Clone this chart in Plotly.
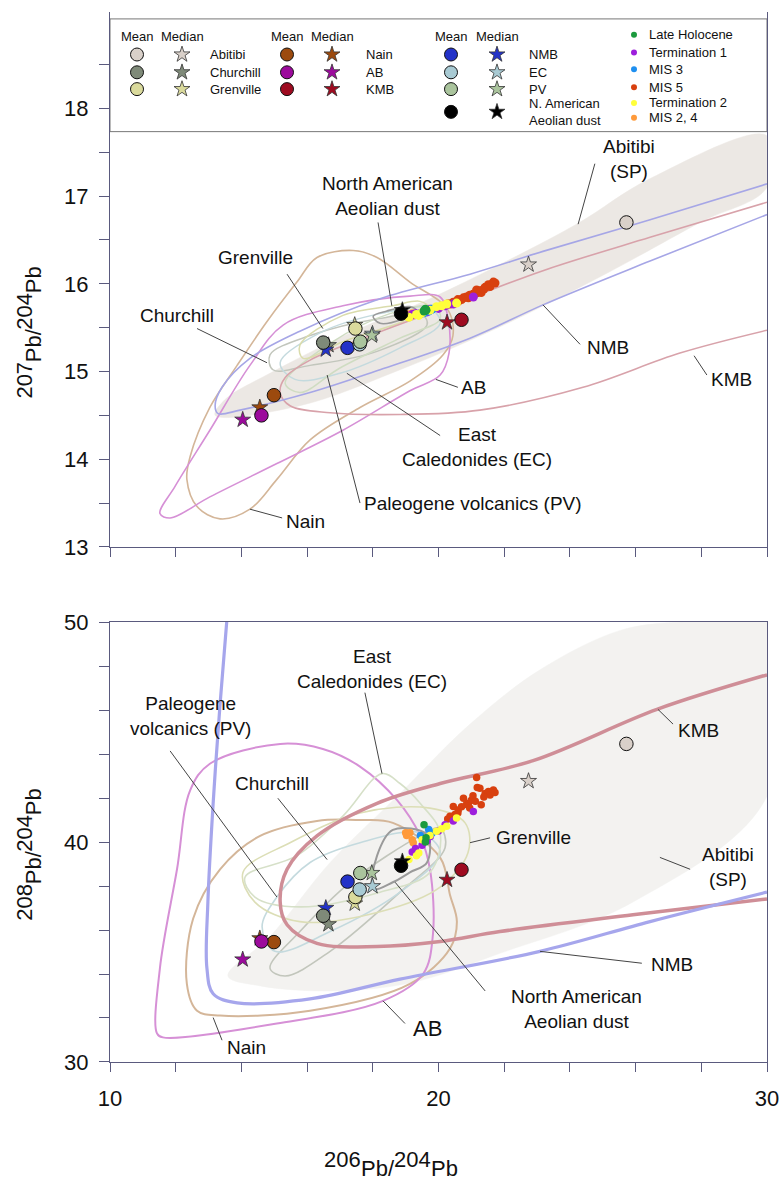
import plotly.graph_objects as go

FONT = "Liberation Sans, Arial, Helvetica, sans-serif"
AX = "#5a5a7e"

# ------------------------------------------------------------------ sources
source_names = ["Abitibi", "Churchill", "Grenville", "Nain", "AB", "KMB",
                "NMB", "EC", "PV", "N. American Aeolian dust"]
legend_labels = ["Abitibi", "Churchill", "Grenville", "Nain", "AB", "KMB",
                 "NMB", "EC", "PV", "N. American<br>Aeolian dust"]
source_colors = ["#d9d0c9", "#7f8a79", "#dada9c", "#9c4a0e", "#9c0a9c",
                 "#9e0b20", "#2332c8", "#a8cad3", "#aac49d", "#000000"]
mean_206 = [25.72, 16.49, 17.47, 14.99, 14.61, 20.70, 17.23, 17.60, 17.62, 18.86]
mean_207 = [16.70, 15.33, 15.49, 14.73, 14.50, 15.59, 15.27, 15.31, 15.34, 15.66]
mean_208 = [44.46, 36.65, 37.50, 35.45, 35.48, 38.74, 38.20, 37.84, 38.59, 38.92]
median_206 = [22.74, 16.65, 17.45, 14.56, 14.04, 20.26, 16.57, 17.99, 17.97, 18.90]
median_207 = [16.22, 15.30, 15.53, 14.59, 14.45, 15.56, 15.25, 15.43, 15.41, 15.70]
median_208 = [42.77, 36.26, 37.20, 35.62, 34.66, 38.28, 37.00, 37.99, 38.59, 39.12]

# ------------------------------------------------------------------ samples
sample_names = ["Late Holocene", "Termination 1", "MIS 3", "MIS 5", "Termination 2", "MIS 2, 4"]
sample_colors = ["#1b9a3e", "#9d1fdc", "#1e8ff0", "#d8400f", "#ffff3a", "#ff9a3a"]

holo_206 = [19.62, 19.56, 19.60]
holo_207 = [15.70, 15.69, 15.71]
holo_208 = [40.19, 40.79, 40.00]

term1_206 = [19.20, 19.30, 19.50, 19.75, 20.00, 20.20, 20.45, 21.06, 19.65]
term1_207 = [15.65, 15.66, 15.67, 15.71, 15.72, 15.75, 15.77, 15.85, 15.68]
term1_208 = [39.55, 39.70, 39.85, 40.25, 40.50, 40.79, 40.95, 41.39, 40.05]

mis3_206 = [19.45, 19.70, 19.80, 19.55]
mis3_207 = [15.66, 15.69, 15.71, 15.67]
mis3_208 = [40.30, 40.57, 40.40, 40.10]

mis5_206 = [20.28, 20.35, 20.45, 20.59, 20.60, 20.70, 20.76, 20.85, 20.91, 21.00, 21.05, 21.12,
            21.18, 21.26, 21.30, 21.42, 21.52, 21.57, 21.67, 21.72, 20.50, 20.95, 21.16, 21.38]
mis5_207 = [15.77, 15.77, 15.79, 15.82, 15.80, 15.82, 15.84, 15.85, 15.84, 15.86, 15.88, 15.89,
            15.90, 15.92, 15.90, 15.96, 15.99, 15.97, 16.02, 16.01, 15.79, 15.87, 15.93, 15.94]
mis5_208 = [41.05, 41.17, 41.62, 41.32, 41.45, 41.60, 41.99, 41.70, 41.76, 41.90, 42.10, 41.85,
            42.48, 42.44, 41.69, 42.20, 42.30, 42.14, 42.36, 42.25, 41.25, 41.55, 42.93, 42.05]

term2_206 = [19.10, 19.33, 19.50, 19.74, 19.94, 20.10, 20.25, 20.55, 19.40]
term2_207 = [15.62, 15.65, 15.67, 15.70, 15.74, 15.75, 15.77, 15.78, 15.64]
term2_208 = [39.20, 39.37, 40.10, 40.30, 40.49, 40.60, 40.72, 41.09, 39.50]

mis24_206 = [19.00, 19.03, 19.13, 19.20, 19.23]
mis24_207 = [15.64, 15.65, 15.64, 15.66, 15.65]
mis24_208 = [40.42, 40.30, 40.42, 40.10, 39.97]

# ------------------------------------------------------------------ field outlines (207 panel)
abitibi_t_x = [13.2, 15.78, 18.83, 21.87, 24.92, 27.96, 30.0, 30.0, 26.44, 24.25, 21.87, 19.74, 17.31, 14.87, 13.5]
abitibi_t_y = [14.5, 14.61, 15.02, 15.51, 16.08, 16.70, 17.10, 17.69, 17.20, 16.69, 16.22, 15.83, 15.44, 14.98, 14.68]
nmb_t_x = [30.0, 26.44, 23.18, 20.96, 18.22, 15.78, 14.26, 13.41, 13.2, 13.29, 13.96, 16.09, 18.22, 20.96, 23.18, 26.44, 30.0]
nmb_t_y = [17.14, 16.73, 16.37, 16.11, 15.83, 15.46, 15.15, 14.82, 14.61, 14.52, 14.56, 14.76, 15.02, 15.38, 15.76, 16.26, 16.79]
kmb_t_x = [30.0, 26.44, 23.18, 20.14, 18.13, 16.09, 15.33, 15.18, 15.48, 16.7, 18.83, 21.26, 24.4, 27.35, 30.0]
kmb_t_y = [16.93, 16.53, 16.15, 15.72, 15.44, 15.13, 14.93, 14.76, 14.61, 14.53, 14.51, 14.56, 14.82, 15.21, 15.47]
ab_t_x = [11.52, 11.98, 13.04, 14.26, 15.27, 17.09, 19.13, 20.05, 20.29, 20.32, 20.05, 19.13, 17.09, 15.08, 13.04, 11.83]
ab_t_y = [13.38, 13.69, 14.33, 15.07, 15.53, 15.75, 15.86, 15.85, 15.6, 15.21, 14.96, 14.78, 14.33, 13.95, 13.57, 13.33]
nain_t_x = [17.4, 16.3, 15.69, 14.78, 13.87, 13.04, 12.44, 12.34, 12.65, 13.35, 14.26, 15.08, 16.09, 17.61, 19.13, 20.14, 20.44, 20.26, 19.13, 18.13]
nain_t_y = [16.38, 16.30, 16.02, 15.57, 15.07, 14.59, 14.03, 13.77, 13.46, 13.32, 13.43, 13.77, 14.22, 14.59, 14.89, 15.19, 15.41, 15.72, 16.02, 16.30]
churchill_t_x = [14.87, 16.09, 18.13, 19.53, 19.65, 18.13, 16.09, 14.96]
churchill_t_y = [15.19, 15.41, 15.60, 15.64, 15.53, 15.23, 15.07, 15.02]
grenville_t_x = [15.78, 17.09, 18.61, 19.44, 19.74, 18.92, 17.09, 15.88]
grenville_t_y = [15.30, 15.64, 15.75, 15.80, 15.72, 15.57, 15.34, 15.15]
ec_t_x = [15.18, 16.39, 18.22, 19.74, 20.05, 18.83, 17.0, 15.63]
ec_t_y = [15.10, 15.44, 15.66, 15.72, 15.55, 15.27, 14.98, 14.91]
pv_t_x = [15.33, 16.7, 18.52, 19.89, 20.05, 18.83, 17.0, 15.78]
pv_t_y = [14.87, 15.32, 15.66, 15.74, 15.60, 15.38, 15.04, 14.76]
nad_t_x = [18.01, 18.43, 19.13, 19.35, 18.92, 18.22]
nad_t_y = [15.63, 15.69, 15.74, 15.69, 15.60, 15.55]

# ------------------------------------------------------------------ field outlines (208 panel)
abitibi_b_x = [13.59, 14.57, 16.7, 19.13, 21.87, 25.92, 30.0, 30.0, 27.35, 25.53, 23.09, 20.96, 18.83, 16.7, 14.87]
abitibi_b_y = [33.91, 33.46, 33.23, 33.59, 34.94, 37.27, 42.08, 50.0, 50.0, 49.62, 47.83, 45.36, 42.21, 39.07, 35.70]
nmb_b_x = [13.58, 13.35, 13.14, 12.98, 12.95, 13.14, 13.87, 16.09, 18.83, 23.09, 26.44, 30.0]
nmb_b_y = [50.5, 46.26, 41.76, 37.27, 34.27, 33.10, 32.69, 32.87, 33.77, 35.03, 36.38, 37.72]
kmb_b_x = [30.0, 26.65, 22.88, 20.05, 18.13, 16.3, 15.39, 15.18, 15.39, 16.3, 18.13, 20.05, 21.87, 25.92, 30.0]
kmb_b_y = [47.6, 46.03, 43.70, 42.66, 41.76, 40.28, 38.76, 37.27, 36.24, 35.39, 35.25, 35.48, 35.93, 36.69, 37.41]
ab_b_x = [15.18, 13.04, 12.44, 12.04, 11.52, 11.43, 11.61, 15.08, 18.31, 19.53, 19.83, 19.74, 19.44, 18.74, 17.61, 16.48]
ab_b_y = [44.46, 43.56, 42.35, 38.76, 34.27, 31.30, 31.12, 31.75, 32.78, 34.0, 35.79, 38.76, 40.28, 41.90, 43.43, 44.23]
nain_b_x = [16.3, 14.57, 13.35, 12.53, 12.34, 12.65, 13.35, 16.09, 19.13, 20.35, 20.56, 20.35, 20.05, 18.61, 17.61]
nain_b_y = [40.96, 40.28, 38.76, 36.51, 33.55, 32.33, 32.11, 32.33, 33.55, 35.16, 36.38, 37.59, 39.29, 40.87, 41.0]
ec_b_x = [18.28, 17.09, 15.69, 14.11, 14.41, 15.78, 18.22, 19.74, 20.05, 19.44, 18.83]
ec_b_y = [43.11, 41.18, 39.38, 38.40, 37.50, 37.05, 37.72, 38.62, 40.42, 41.76, 42.66]
pv_b_x = [15.08, 16.09, 17.61, 19.44, 20.05, 18.83, 16.7, 15.02, 14.63]
pv_b_y = [37.50, 39.07, 39.97, 40.42, 39.52, 37.72, 35.93, 35.03, 36.15]
churchill_b_x = [14.87, 15.78, 17.31, 19.44, 20.05, 20.2, 18.83, 16.7, 15.33]
churchill_b_y = [34.27, 35.93, 38.17, 40.28, 40.64, 39.74, 37.72, 35.03, 33.91]
grenville_b_x = [14.05, 15.48, 17.61, 19.74, 20.81, 20.9, 20.05, 18.22, 15.78, 14.41]
grenville_b_y = [38.62, 39.97, 41.32, 41.54, 40.87, 39.52, 37.95, 36.83, 36.38, 37.27]
nad_b_x = [18.01, 18.13, 18.61, 19.65, 19.65, 19.13, 18.61]
nad_b_y = [37.86, 39.38, 40.55, 40.33, 39.07, 38.62, 38.17]

# ------------------------------------------------------------------ ticks
x_all_ticks = [10, 12, 14, 16, 18, 20, 22, 24, 26, 28, 30]
x_major = [10, 20, 30]
x_minor = [12, 14, 16, 18, 22, 24, 26, 28]
y207_major = [13, 14, 15, 16, 17, 18]
y207_minor = [13.5, 14.5, 15.5, 16.5, 17.5, 18.5]
y208_major = [30, 40, 50]
y208_minor = [32, 34, 36, 38, 42, 44, 46, 48]

fig = go.Figure()
AXES = {"top": ("x", "y"), "bot": ("x2", "y2")}


def add_field(xs, ys, color, width, panel, closed=True, fill=None):
    xs, ys = list(xs), list(ys)
    if closed:
        xs, ys = xs + xs[:1], ys + ys[:1]
    xa, ya = AXES[panel]
    fig.add_trace(go.Scatter(
        x=xs, y=ys, mode="lines", xaxis=xa, yaxis=ya,
        line=dict(color=color, width=width, shape="spline", smoothing=1.0),
        fill="toself" if fill else None, fillcolor=fill,
        hoverinfo="skip", showlegend=False))


# fields - top
add_field(abitibi_t_x, abitibi_t_y, "#ece8e4", 0.5, "top", fill="#ece8e4")
add_field(nain_t_x, nain_t_y, "#d4b699", 1.6, "top")
add_field(ab_t_x, ab_t_y, "#d690d6", 1.6, "top")
add_field(churchill_t_x, churchill_t_y, "#c2c6bc", 1.5, "top")
add_field(ec_t_x, ec_t_y, "#c4dade", 1.5, "top")
add_field(pv_t_x, pv_t_y, "#cfdcc2", 1.5, "top")
add_field(grenville_t_x, grenville_t_y, "#dadcac", 1.5, "top")
add_field(kmb_t_x, kmb_t_y, "#d8a2aa", 1.6, "top", closed=False)
add_field(nmb_t_x, nmb_t_y, "#a6a6e6", 1.6, "top", closed=False)
add_field(nad_t_x, nad_t_y, "#9a9a9a", 1.6, "top")

# fields - bottom
add_field(abitibi_b_x, abitibi_b_y, "#f3f2f0", 0.5, "bot", fill="#f3f2f0")
add_field(nain_b_x, nain_b_y, "#d4b699", 2.0, "bot")
add_field(ab_b_x, ab_b_y, "#d690d6", 2.0, "bot")
add_field(churchill_b_x, churchill_b_y, "#c2c6bc", 1.6, "bot")
add_field(pv_b_x, pv_b_y, "#c4dade", 1.6, "bot")
add_field(ec_b_x, ec_b_y, "#d6e0c8", 1.6, "bot")
add_field(grenville_b_x, grenville_b_y, "#dcdeb6", 1.6, "bot")
add_field(kmb_b_x, kmb_b_y, "#cf8e97", 3.5, "bot", closed=False)
add_field(nmb_b_x, nmb_b_y, "#a6a6ec", 3.2, "bot", closed=False)
add_field(nad_b_x, nad_b_y, "#9a9a9a", 2.0, "bot")

# samples
sample_sets = [
    (mis5_206, mis5_207, mis5_208, 3),
    (mis24_206, mis24_207, mis24_208, 5),
    (term1_206, term1_207, term1_208, 1),
    (mis3_206, mis3_207, mis3_208, 2),
    (term2_206, term2_207, term2_208, 4),
    (holo_206, holo_207, holo_208, 0),
]
for sx, s7, s8, ci in sample_sets:
    for panel, sy, size in (("top", s7, 9), ("bot", s8, 7.5)):
        xa, ya = AXES[panel]
        fig.add_trace(go.Scatter(x=sx, y=sy, mode="markers", xaxis=xa, yaxis=ya,
                                 marker=dict(color=sample_colors[ci], size=size, line=dict(width=0)),
                                 name=sample_names[ci], showlegend=False, hoverinfo="skip"))

# medians (stars) then means (circles)
for panel, my, dy in (("top", median_207, mean_207), ("bot", median_208, mean_208)):
    xa, ya = AXES[panel]
    fig.add_trace(go.Scatter(x=median_206, y=my, mode="markers", xaxis=xa, yaxis=ya,
                             marker=dict(symbol="star", size=12, color=source_colors,
                                         line=dict(color="#333333", width=0.8)),
                             showlegend=False, hoverinfo="skip"))
    fig.add_trace(go.Scatter(x=mean_206, y=dy, mode="markers", xaxis=xa, yaxis=ya,
                             marker=dict(symbol="circle", size=13.5, color=source_colors,
                                         line=dict(color="#111111", width=1)),
                             showlegend=False, hoverinfo="skip"))

# ------------------------------------------------------------------ legend (pixel-unit axis)
hdr_y = 25
group_mean_x = [137, 287, 451]
group_median_x = [182, 332, 497]
group_text_x = [208, 364, 527]
row_y = [43, 61, 78, 101]
src_group = [0, 0, 0, 1, 1, 1, 2, 2, 2, 2]
src_row = [0, 1, 2, 0, 1, 2, 0, 1, 2, 3]
samp_dot_x, samp_text_x = 634, 647
samp_row_y = [23, 41, 58, 76, 92, 107]

leg_mx = [group_mean_x[g] for g in src_group]
leg_sx = [group_median_x[g] for g in src_group]
leg_y = [row_y[r] for r in src_row]
fig.add_trace(go.Scatter(x=leg_mx, y=leg_y, mode="markers", xaxis="x3", yaxis="y3",
                         marker=dict(symbol="circle", size=13, color=source_colors,
                                     line=dict(color="#111", width=1)),
                         showlegend=False, hoverinfo="skip", cliponaxis=False))
fig.add_trace(go.Scatter(x=leg_sx, y=leg_y, mode="markers", xaxis="x3", yaxis="y3",
                         marker=dict(symbol="star", size=12, color=source_colors,
                                     line=dict(color="#333", width=0.8)),
                         showlegend=False, hoverinfo="skip", cliponaxis=False))
fig.add_trace(go.Scatter(x=[samp_dot_x] * 6, y=samp_row_y, mode="markers", xaxis="x3", yaxis="y3",
                         marker=dict(size=6, color=sample_colors, line=dict(width=0)),
                         showlegend=False, hoverinfo="skip", cliponaxis=False))

annotations = []
LEGF = dict(family=FONT, size=13, color="#111")
for g in range(3):
    annotations.append(dict(x=group_mean_x[g], y=hdr_y, xref="x3", yref="y3", text="Mean",
                            showarrow=False, font=LEGF, xanchor="center", yanchor="middle"))
    annotations.append(dict(x=group_median_x[g], y=hdr_y, xref="x3", yref="y3", text="Median",
                            showarrow=False, font=LEGF, xanchor="center", yanchor="middle"))
for i, lab in enumerate(legend_labels):
    annotations.append(dict(x=group_text_x[src_group[i]], y=row_y[src_row[i]], xref="x3", yref="y3",
                            text=lab, showarrow=False, font=LEGF, xanchor="left", yanchor="middle",
                            align="left"))
for i, lab in enumerate(sample_names):
    annotations.append(dict(x=samp_text_x, y=samp_row_y[i], xref="x3", yref="y3", text=lab,
                            showarrow=False, font=LEGF, xanchor="left", yanchor="middle"))

# ------------------------------------------------------------------ field labels + leaders
labels_top = [
    ("Abitibi<br>(SP)", 25.8, 17.42, 19), ("North American<br>Aeolian dust", 18.46, 17.0, 19),
    ("Grenville", 14.44, 16.30, 19), ("Churchill", 12.04, 15.64, 19), ("AB", 21.08, 14.82, 19),
    ("East<br>Caledonides (EC)", 21.17, 14.14, 19), ("Paleogene volcanics (PV)", 21.05, 13.5, 19),
    ("Nain", 15.94, 13.29, 19), ("NMB", 25.16, 15.27, 19), ("KMB", 28.93, 14.91, 19),
]
leaders_top = [
    (24.76, 17.37, 24.25, 16.68), (18.16, 16.70, 18.58, 15.75), (15.39, 16.11, 16.48, 15.49),
    (12.65, 15.49, 14.78, 15.10), (19.92, 14.91, 20.59, 14.82), (17.21, 14.98, 20.05, 14.27),
    (16.61, 14.96, 17.61, 13.50), (14.26, 13.43, 15.24, 13.33), (23.18, 15.76, 24.31, 15.31),
    (27.78, 15.18, 28.17, 14.96),
]
labels_bot = [
    ("East<br>Caledonides (EC)", 17.98, 47.87, 19), ("Paleogene<br>volcanics (PV)", 12.44, 45.72, 19),
    ("Churchill", 14.93, 42.66, 19), ("Nain", 14.17, 30.67, 19), ("AB", 19.65, 31.53, 22),
    ("Grenville", 22.88, 40.19, 19), ("KMB", 27.9, 45.09, 19), ("Abitibi<br>(SP)", 28.81, 38.85, 19),
    ("NMB", 27.11, 34.45, 19), ("North American<br>Aeolian dust", 24.19, 32.42, 19),
]
leaders_bot = [
    (17.76, 46.79, 18.28, 43.11), (11.83, 44.14, 15.08, 37.50), (15.11, 41.99, 16.61, 39.20),
    (13.14, 32.02, 13.41, 30.99), (18.31, 32.78, 18.98, 31.75), (20.96, 39.97, 21.57, 40.19),
    (26.68, 46.03, 27.14, 45.36), (26.74, 39.30, 27.66, 38.76), (23.09, 35.03, 26.19, 34.49),
    (18.68, 38.17, 21.42, 33.23),
]
shapes = []
for labs, leads, xr, yr in ((labels_top, leaders_top, "x", "y"), (labels_bot, leaders_bot, "x2", "y2")):
    for txt, lx, ly, fs in labs:
        annotations.append(dict(x=lx, y=ly, xref=xr, yref=yr, text=txt, showarrow=False,
                                font=dict(family=FONT, size=fs, color="#111"),
                                xanchor="center", yanchor="middle", align="center"))
    for x0, y0, x1, y1 in leads:
        shapes.append(dict(type="line", xref=xr, yref=yr, x0=x0, y0=y0, x1=x1, y1=y1,
                           line=dict(color="#444", width=1), layer="above"))

# legend box
shapes.append(dict(type="rect", xref="paper", yref="paper", x0=0, x1=1,
                   y0=(1062 - 121) / 1062, y1=(1062 - 7) / 1062,
                   line=dict(color="#777", width=1), fillcolor="white", layer="below"))

# ------------------------------------------------------------------ axis titles (isotope notation)
TF = 22
EM = {"0": .556, "1": .556, "2": .556, "3": .556, "4": .556, "5": .556, "6": .556, "7": .556,
      "8": .556, "9": .556, "P": .667, "b": .556, "/": .278}
RAISE = 9  # px offset of the mass numbers


def txt_w(s):
    return sum(EM[c] for c in s) * TF


def px_to_paper(px, py):
    return (px - 110) / 657, (1062 - py) / 1062


def iso_title(m1, m2, cx, cy, vertical):
    pieces = [(str(m1), True), ("Pb/", False), (str(m2), True), ("Pb", False)]
    total = sum(txt_w(p) for p, _ in pieces)
    pos = -total / 2
    for p, raised in pieces:
        w = txt_w(p)
        mid = pos + w / 2
        pos += w
        if vertical:
            px, py = cx + (-RAISE / 2 if raised else RAISE / 2), cy - mid
        else:
            px, py = cx + mid, cy + (-RAISE / 2 if raised else RAISE / 2)
        xp, yp = px_to_paper(px, py)
        annotations.append(dict(x=xp, y=yp, xref="paper", yref="paper", text=p, showarrow=False,
                                textangle=-90 if vertical else 0,
                                font=dict(family=FONT, size=TF, color="#111"),
                                xanchor="center", yanchor="middle", borderpad=0))


iso_title(206, 204, 391, 1165, False)
iso_title(207, 204, 29, 324, True)
iso_title(208, 204, 29, 852, True)

common = dict(showgrid=False, zeroline=False, showline=True, linecolor=AX, linewidth=1,
              ticks="outside", tickcolor=AX, tickwidth=1,
              tickfont=dict(family=FONT, size=22, color="#111"))


def minor(vals, ln):
    return dict(tickvals=vals, ticks="outside", ticklen=ln, tickcolor=AX, tickwidth=1, showgrid=False)


fig.update_layout(
    width=782, height=1185,
    margin=dict(l=110, r=15, t=0, b=123),
    paper_bgcolor="white", plot_bgcolor="rgba(0,0,0,0)",
    showlegend=False,
    font=dict(family=FONT, color="#111"),
    xaxis=dict(domain=[0, 1], range=[10, 30], anchor="y", tickvals=x_all_ticks,
               showticklabels=False, ticklen=9, mirror=False, **common),
    yaxis=dict(domain=[(1062 - 541) / 1062, 1], range=[13, 19.1], anchor="x",
               tickvals=y207_major, ticklen=10, mirror=True, minor=minor(y207_minor, 10),
               ticklabelstandoff=6, **common),
    xaxis2=dict(domain=[0, 1], range=[10, 30], anchor="y2", tickvals=x_major,
                ticklen=9, mirror=True, ticklabelstandoff=8, minor=minor(x_minor, 9), **common),
    yaxis2=dict(domain=[0, (1062 - 617) / 1062], range=[30, 50], anchor="x2",
                tickvals=y208_major, ticklen=10, mirror=True, minor=minor(y208_minor, 10),
                ticklabelstandoff=6, **common),
    xaxis3=dict(domain=[0, 1], range=[110, 767], anchor="y3", visible=False, fixedrange=True),
    yaxis3=dict(domain=[(1062 - 121) / 1062, 1], range=[121, 0], anchor="x3", visible=False,
                fixedrange=True),
    annotations=annotations,
    shapes=shapes,
)

fig.write_html("out.html")
